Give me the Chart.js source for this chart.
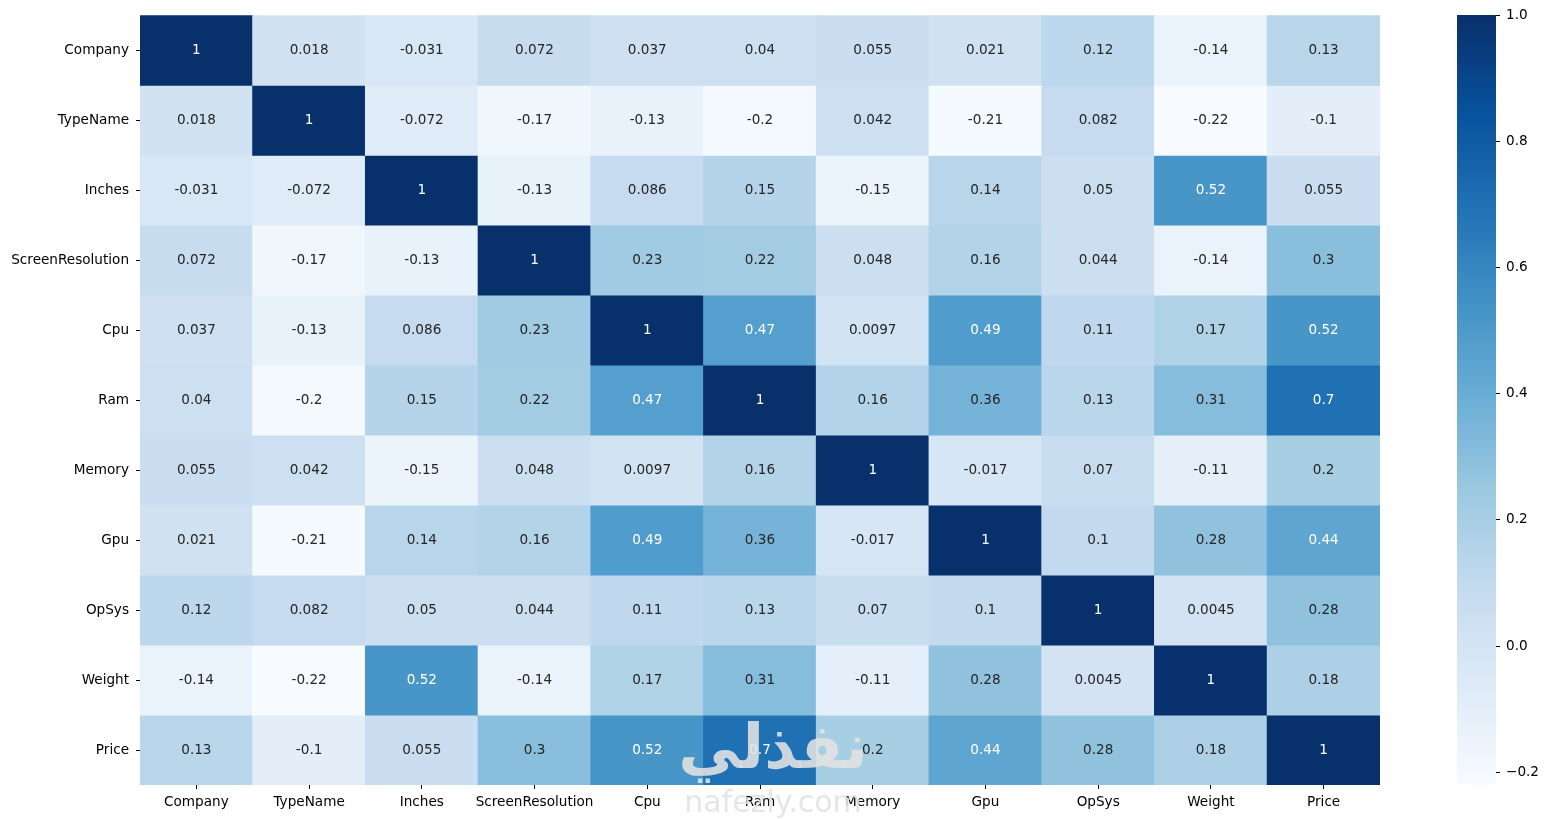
<!DOCTYPE html>
<html>
<head>
<meta charset="utf-8">
<script src="https://cdn.jsdelivr.net/npm/chart.js@4"></script>
<style>
    html, body { margin: 0; padding: 0; background: #ffffff; }
    #wrap { position: relative; width: 1548px; height: 819px; }
    #heatBox { position: absolute; left: 0; top: 0; width: 1548px; height: 819px; }
    #cbarBox { position: absolute; left: 1457px; top: 0; width: 91px; height: 819px; }
</style>
</head>
<body>
<div id="wrap">
    <div id="heatBox"><canvas id="heatmap"></canvas></div>
    <div id="cbarBox"><canvas id="colorbar"></canvas></div>
</div>
<script>
// Data
const labels = ['Company', 'TypeName', 'Inches', 'ScreenResolution', 'Cpu', 'Ram', 'Memory', 'Gpu', 'OpSys', 'Weight', 'Price'];

const rowCompany    = [1, 0.018, -0.031, 0.072, 0.037, 0.04, 0.055, 0.021, 0.12, -0.14, 0.13];
const rowTypeName   = [0.018, 1, -0.072, -0.17, -0.13, -0.2, 0.042, -0.21, 0.082, -0.22, -0.1];
const rowInches     = [-0.031, -0.072, 1, -0.13, 0.086, 0.15, -0.15, 0.14, 0.05, 0.52, 0.055];
const rowScreenRes  = [0.072, -0.17, -0.13, 1, 0.23, 0.22, 0.048, 0.16, 0.044, -0.14, 0.3];
const rowCpu        = [0.037, -0.13, 0.086, 0.23, 1, 0.47, 0.0097, 0.49, 0.11, 0.17, 0.52];
const rowRam        = [0.04, -0.2, 0.15, 0.22, 0.47, 1, 0.16, 0.36, 0.13, 0.31, 0.7];
const rowMemory     = [0.055, 0.042, -0.15, 0.048, 0.0097, 0.16, 1, -0.017, 0.07, -0.11, 0.2];
const rowGpu        = [0.021, -0.21, 0.14, 0.16, 0.49, 0.36, -0.017, 1, 0.1, 0.28, 0.44];
const rowOpSys      = [0.12, 0.082, 0.05, 0.044, 0.11, 0.13, 0.07, 0.1, 1, 0.0045, 0.28];
const rowWeight     = [-0.14, -0.22, 0.52, -0.14, 0.17, 0.31, -0.11, 0.28, 0.0045, 1, 0.18];
const rowPrice      = [0.13, -0.1, 0.055, 0.3, 0.52, 0.7, 0.2, 0.44, 0.28, 0.18, 1];

const corr = [rowCompany, rowTypeName, rowInches, rowScreenRes, rowCpu, rowRam, rowMemory, rowGpu, rowOpSys, rowWeight, rowPrice];

const cbarTicks = [-0.2, 0, 0.2, 0.4, 0.6, 0.8, 1.0];

const vmin = Math.min(...corr.flat());
const vmax = Math.max(...corr.flat());

// Blues colormap (matplotlib)
const blues = [
    [247, 251, 255], [222, 235, 247], [198, 219, 239], [158, 202, 225], [107, 174, 214],
    [66, 146, 198], [33, 113, 181], [8, 81, 156], [8, 48, 107]
];

function bluesRGB(v) {
    let t = (v - vmin) / (vmax - vmin);
    t = Math.max(0, Math.min(1, t));
    const pos = t * (blues.length - 1);
    const i = Math.min(Math.floor(pos), blues.length - 2);
    const f = pos - i;
    return blues[i].map((c, k) => c + (blues[i + 1][k] - c) * f);
}

function bluesColor(v) {
    const c = bluesRGB(v).map(Math.round);
    return 'rgb(' + c.join(',') + ')';
}

// same rule seaborn uses to pick the annotation colour
function textColor(v) {
    const lin = bluesRGB(v).map(c => {
        c = c / 255;
        return c <= 0.03928 ? c / 12.92 : Math.pow((c + 0.055) / 1.055, 2.4);
    });
    const lum = 0.2126 * lin[0] + 0.7152 * lin[1] + 0.0722 * lin[2];
    return lum > 0.408 ? '#262626' : '#ffffff';
}

const FONT = 'DejaVu Sans';
const FSIZE = 13.6;
Chart.defaults.font.family = FONT;
Chart.defaults.font.size = FSIZE;
Chart.defaults.color = '#000000';

// Plugins
const annotatePlugin = {
    id: 'annotate',
    afterDatasetsDraw(chart) {
        const ctx = chart.ctx;
        ctx.save();
        ctx.font = FSIZE + 'px "' + FONT + '"';
        ctx.textAlign = 'center';
        ctx.textBaseline = 'middle';
        corr.forEach((row, r) => {
            const meta = chart.getDatasetMeta(r);
            row.forEach((v, c) => {
                const p = meta.data[c].getCenterPoint();
                ctx.fillStyle = textColor(v);
                ctx.fillText(String(v), p.x, p.y);
            });
        });
        ctx.restore();
    }
};

const watermarkPlugin = {
    id: 'watermark',
    afterDraw(chart) {
        const ctx = chart.ctx;
        ctx.save();
        ctx.textAlign = 'center';
        ctx.fillStyle = 'rgba(226, 226, 226, 0.88)';
        ctx.font = 'bold 62px "' + FONT + '"';
        ctx.textBaseline = 'alphabetic';
        ctx.fillText('نفذلي', 773, 768);
        ctx.font = '30px "' + FONT + '"';
        ctx.fillText('nafezly.com', 773, 812);
        ctx.restore();
    }
};

// Heatmap
function createHeatmap() {
    const ctx = document.getElementById('heatmap').getContext('2d');
    return new Chart(ctx, {
        type: 'bar',
        data: {
            labels: labels,
            datasets: corr.map((row, r) => ({
                label: labels[r],
                data: row.map(() => 1),
                backgroundColor: row.map(v => bluesColor(v)),
                borderWidth: 0,
                barPercentage: 1,
                categoryPercentage: 1,
                inflateAmount: 0.5
            }))
        },
        options: {
            responsive: true,
            maintainAspectRatio: false,
            animation: false,
            layout: { padding: { left: 0, right: 168, top: 15, bottom: 0 } },
            plugins: {
                legend: { display: false },
                tooltip: { enabled: false }
            },
            scales: {
                x: {
                    stacked: true,
                    grid: { drawOnChartArea: false, offset: false, tickLength: 4, color: '#000000', tickWidth: 1 },
                    border: { display: false },
                    ticks: { padding: 5, maxRotation: 0, autoSkip: false, color: '#000000' },
                    afterFit: s => { s.height = 34; }
                },
                y: {
                    stacked: true,
                    reverse: true,
                    min: 0,
                    max: labels.length,
                    grid: { drawOnChartArea: false, tickLength: 4, color: '#000000', tickWidth: 1 },
                    border: { display: false },
                    afterBuildTicks: axis => {
                        axis.ticks = labels.map((_, i) => ({ value: i + 0.5 }));
                    },
                    ticks: {
                        padding: 7,
                        autoSkip: false,
                        color: '#000000',
                        callback: v => labels[Math.floor(v)]
                    },
                    afterFit: s => { s.width = 140; }
                }
            }
        },
        plugins: [annotatePlugin, watermarkPlugin]
    });
}

// Colorbar
function cbarGradient(context) {
    const chart = context.chart;
    const y = chart.scales.y;
    if (!chart.chartArea || !y) return bluesColor((vmin + vmax) / 2);
    const g = chart.ctx.createLinearGradient(0, y.getPixelForValue(vmin), 0, y.getPixelForValue(vmax));
    for (let k = 0; k <= 64; k++) {
        const t = k / 64;
        g.addColorStop(t, bluesColor(vmin + t * (vmax - vmin)));
    }
    return g;
}

function createColorbar() {
    const ctx = document.getElementById('colorbar').getContext('2d');
    return new Chart(ctx, {
        type: 'bar',
        data: {
            labels: ['cbar'],
            datasets: [{
                data: [[vmin, vmax]],
                backgroundColor: cbarGradient,
                borderWidth: 0,
                barPercentage: 1,
                categoryPercentage: 1
            }]
        },
        options: {
            responsive: true,
            maintainAspectRatio: false,
            animation: false,
            layout: { padding: { left: 0, right: 0, top: 15, bottom: 34 } },
            plugins: {
                legend: { display: false },
                tooltip: { enabled: false }
            },
            scales: {
                x: { display: false },
                y: {
                    position: 'right',
                    min: vmin,
                    max: vmax,
                    grid: { drawOnChartArea: false, tickLength: 4, color: '#000000' },
                    border: { display: false },
                    afterBuildTicks: axis => {
                        axis.ticks = cbarTicks.map(v => ({ value: v }));
                    },
                    ticks: {
                        padding: 6,
                        color: '#000000',
                        callback: v => v.toFixed(1).replace('-', '\u2212')
                    },
                    afterFit: s => { s.width = 52; }
                }
            }
        }
    });
}

createHeatmap();
createColorbar();
</script>
</body>
</html>
